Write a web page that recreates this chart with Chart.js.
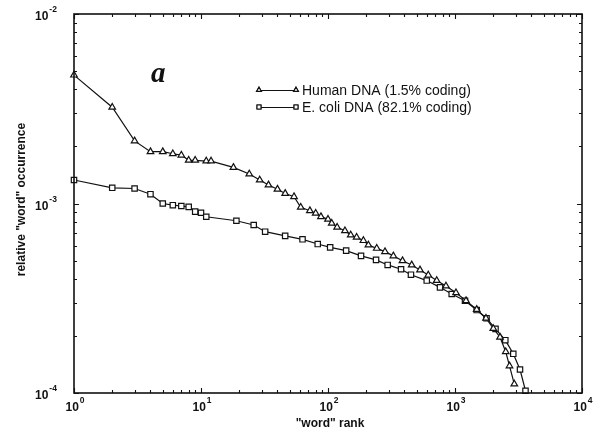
<!DOCTYPE html>
<html>
<head>
<meta charset="utf-8">
<script src="https://cdn.jsdelivr.net/npm/chart.js@4.4.1/dist/chart.umd.min.js"></script>
<style>
  html, body { margin: 0; padding: 0; background: #ffffff; }
  #wrap { width: 594px; height: 434px; }
</style>
</head>
<body>
<div id="wrap"><canvas id="c" width="594" height="434"></canvas></div>
<script>
// ---- data ----
const seriesLabels = ["Human DNA (1.5% coding)", "E. coli DNA (82.1% coding)"];
const panelLabel = "a";
const xTitle = '"word" rank';
const yTitle = 'relative "word" occurrence';
const xDecades = [0, 1, 2, 3, 4];      // tick labels 10^0 ... 10^4
const yDecades = [-4, -3, -2];         // tick labels 10^-4 ... 10^-2

const humanRank = [1, 2, 3, 4, 5, 6, 7, 8, 9, 11, 12, 18, 24, 29, 34, 40, 46, 54, 61,
  72, 80, 88, 100, 107, 118, 136, 151, 168, 190, 208, 242, 281, 327, 386, 456, 530, 616, 718, 849,
  1018, 1221, 1482, 1754, 2003, 2262, 2509, 2686, 2931];
const humanFreq = [0.00476, 0.00322, 0.00214, 0.001876, 0.001876, 0.00183, 0.00180, 0.00169, 0.00169,
  0.001675, 0.001675, 0.00155, 0.00143, 0.00133, 0.001253, 0.00119, 0.00113, 0.001087, 0.000955,
  0.000916, 0.000888, 0.000852, 0.000826, 0.000786, 0.000749, 0.000718, 0.000682, 0.000663, 0.000637,
  0.000604, 0.000580, 0.000557, 0.000529, 0.000499, 0.000474, 0.000446, 0.000419, 0.000392, 0.000367,
  0.000338, 0.000307, 0.000276, 0.000248, 0.000219, 0.000197, 0.000165, 0.000139, 0.0001115];

const ecoliRank = [1, 2, 3, 4, 5, 6, 7, 8, 9, 10, 11, 19, 26, 32, 46, 63, 83, 104, 139, 182, 239,
  295, 376, 450, 599, 762, 942, 1199, 1482, 1771, 2084, 2490, 2877, 3250, 3590];
const ecoliFreq = [0.00133, 0.00121, 0.00120, 0.00112, 0.00100, 0.00098, 0.00097, 0.00096, 0.000906,
  0.000894, 0.000851, 0.000811, 0.000770, 0.000710, 0.000675, 0.000647, 0.000611, 0.000587, 0.000564,
  0.000529, 0.000504, 0.000474, 0.000450, 0.000421, 0.000392, 0.000361, 0.000333, 0.000307, 0.000274,
  0.000248, 0.000218, 0.000190, 0.000161, 0.000133, 0.0001028];

// ---- build chart ----
const toPts = (xs, ys) => xs.map((x, i) => ({ x: x, y: ys[i] }));
const INK = '#111111';
const SANS = '"Liberation Sans", Arial, Helvetica, sans-serif';

const decor = {
  id: 'decor',
  afterDraw(chart) {
    const ctx = chart.ctx;
    const xs = chart.scales.x, ys = chart.scales.y;
    const a = chart.chartArea;
    ctx.save();
    ctx.strokeStyle = INK;
    ctx.fillStyle = INK;

    // frame
    ctx.lineWidth = 1.6;
    ctx.strokeRect(a.left, a.top, a.right - a.left, a.bottom - a.top);

    // inward ticks
    ctx.lineWidth = 1.1;
    ctx.beginPath();
    for (let d = xDecades[0]; d <= xDecades[xDecades.length - 1]; d++) {
      for (let k = 1; k <= 9; k++) {
        const v = k * Math.pow(10, d);
        if (v > xs.max * 1.0001) break;
        const px = Math.round(xs.getPixelForValue(v)) + 0.5;
        const len = k === 1 ? 5 : 3;
        ctx.moveTo(px, a.bottom); ctx.lineTo(px, a.bottom - len);
        ctx.moveTo(px, a.top); ctx.lineTo(px, a.top + len);
      }
    }
    for (let d = yDecades[0]; d <= yDecades[yDecades.length - 1]; d++) {
      for (let k = 1; k <= 9; k++) {
        const v = k * Math.pow(10, d);
        if (v > ys.max * 1.0001) break;
        const py = Math.round(ys.getPixelForValue(v)) + 0.5;
        const len = k === 1 ? 5 : 3;
        ctx.moveTo(a.left, py); ctx.lineTo(a.left + len, py);
        ctx.moveTo(a.right, py); ctx.lineTo(a.right - len, py);
      }
    }
    ctx.stroke();

    // tick labels 10^n
    const baseFont = 'bold 12px ' + SANS;
    const expFont = 'bold 8.5px ' + SANS;
    ctx.textBaseline = 'alphabetic';
    ctx.textAlign = 'left';
    xDecades.forEach(d => {
      const px = xs.getPixelForValue(Math.pow(10, d));
      ctx.font = baseFont; const w1 = ctx.measureText('10').width;
      ctx.font = expFont; const w2 = ctx.measureText(String(d)).width;
      const x0 = px - (w1 + 1 + w2) / 2 + 1;
      ctx.font = baseFont; ctx.fillText('10', x0, a.bottom + 18);
      ctx.font = expFont; ctx.fillText(String(d), x0 + w1 + 1, a.bottom + 10);
    });
    yDecades.forEach(d => {
      const py = ys.getPixelForValue(Math.pow(10, d));
      ctx.font = baseFont; const w1 = ctx.measureText('10').width;
      ctx.fillText('10', 35, py + 6);
      ctx.font = expFont; ctx.fillText('-' + String(-d), 35 + w1 + 1, py - 2);
    });

    // axis titles
    ctx.font = 'bold 12px ' + SANS;
    ctx.textAlign = 'center';
    ctx.textBaseline = 'middle';
    ctx.fillText(xTitle, (a.left + a.right) / 2 + 2, a.bottom + 31);
    ctx.save();
    ctx.translate(22, (a.top + a.bottom) / 2 - 4);
    ctx.rotate(-Math.PI / 2);
    ctx.fillText(yTitle, 0, 0);
    ctx.restore();

    // panel label
    ctx.font = 'bold italic 29px "Liberation Serif", "Times New Roman", serif';
    ctx.textAlign = 'left';
    ctx.textBaseline = 'alphabetic';
    ctx.fillText(panelLabel, 151, 82);

    // legend
    const legY = [90, 107];
    const styles = ['triangle', 'rect'];
    chart.data.datasets.forEach((ds, i) => {
      const y = legY[i];
      ctx.lineWidth = 1.1;
      ctx.strokeStyle = INK;
      ctx.beginPath(); ctx.moveTo(259, y + 0.5); ctx.lineTo(296, y + 0.5); ctx.stroke();
      ctx.fillStyle = '#ffffff';
      [259, 296].forEach(x => {
        Chart.helpers.drawPoint(ctx, { pointStyle: styles[i], radius: 2.8, borderWidth: 1, rotation: 0 }, x, y);
        ctx.fill(); ctx.stroke();
      });
      ctx.fillStyle = INK;
      ctx.font = '14px ' + SANS;
      ctx.textBaseline = 'middle';
      ctx.fillText(ds.label, 302, y + 1);
    });
    ctx.restore();
  }
};

new Chart(document.getElementById('c'), {
  type: 'line',
  data: {
    datasets: [
      {
        label: seriesLabels[0],
        data: toPts(humanRank, humanFreq),
        borderColor: INK, borderWidth: 1.2,
        pointStyle: 'triangle', pointRadius: 3.8,
        pointBackgroundColor: '#ffffff', pointBorderColor: INK, pointBorderWidth: 1.2,
        fill: false, tension: 0, clip: false
      },
      {
        label: seriesLabels[1],
        data: toPts(ecoliRank, ecoliFreq),
        borderColor: INK, borderWidth: 1.2,
        pointStyle: 'rect', pointRadius: 3.8,
        pointBackgroundColor: '#ffffff', pointBorderColor: INK, pointBorderWidth: 1.2,
        fill: false, tension: 0, clip: false
      }
    ]
  },
  options: {
    responsive: false,
    animation: false,
    devicePixelRatio: 1,
    layout: { padding: { left: 74, right: 12, top: 14, bottom: 41 } },
    plugins: { legend: { display: false }, tooltip: { enabled: false }, title: { display: false } },
    scales: {
      x: { type: 'logarithmic', min: 1, max: 10000, display: false },
      y: { type: 'logarithmic', min: 0.0001, max: 0.01, display: false }
    }
  },
  plugins: [decor]
});
</script>
</body>
</html>
